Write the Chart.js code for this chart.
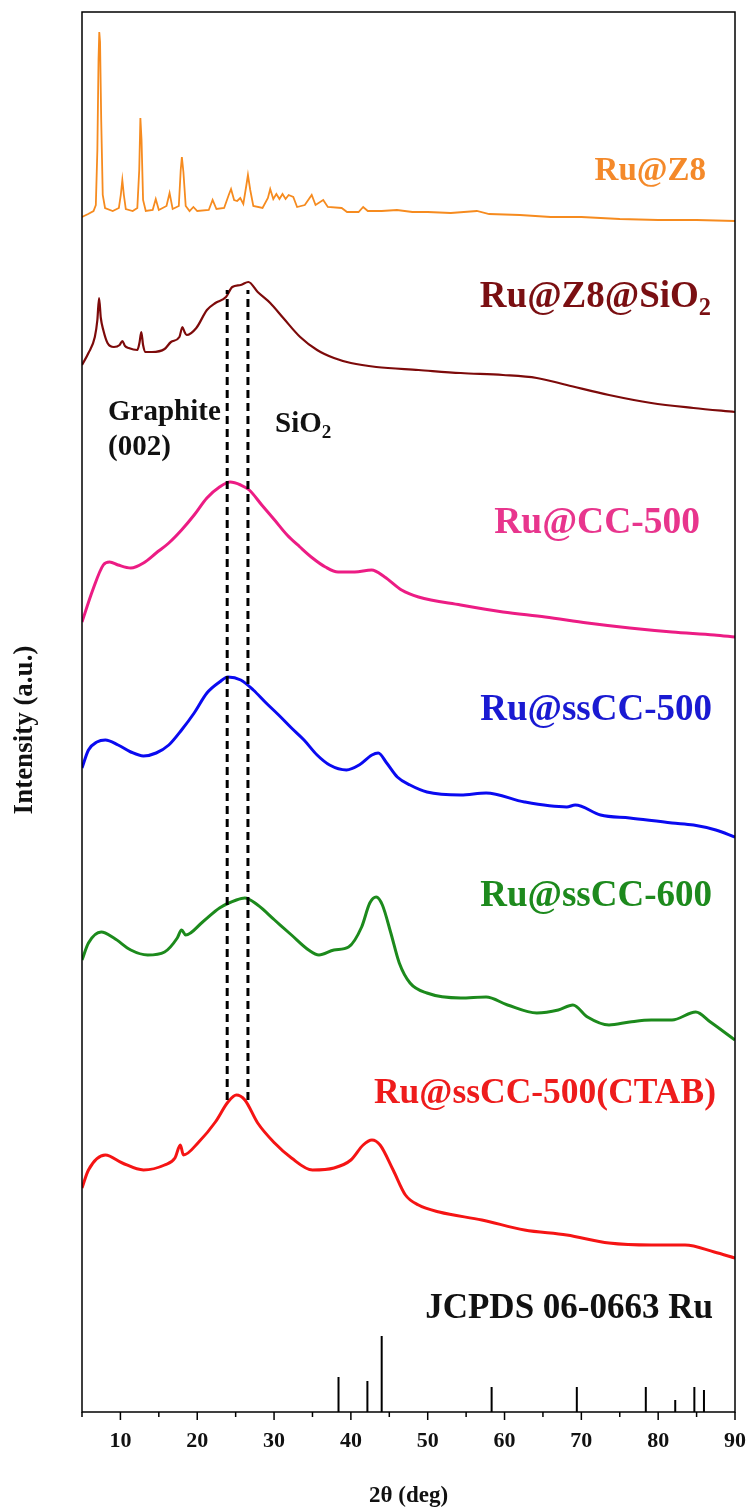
<!DOCTYPE html>
<html>
<head>
<meta charset="utf-8">
<title>XRD patterns</title>
<script src="https://cdn.jsdelivr.net/npm/chart.js@4.4.1/dist/chart.umd.min.js"></script>
<style>
  html, body { margin: 0; padding: 0; background: #fff; }
  #xrd { display: block; }
</style>
</head>
<body>
<canvas id="xrd" width="750" height="1510"></canvas>
<script>
// 2θ positions (deg) and intensities (a.u.) for each pattern, read per curve
const z8Angle = [5.0, 5.8, 6.5, 6.8, 7.0, 7.15, 7.25, 7.35, 7.5, 7.7, 8.0, 9.0, 9.8, 10.05, 10.25, 10.45, 10.7, 11.6, 12.2, 12.45, 12.6, 12.75, 12.95, 13.3, 14.2, 14.6, 15.0, 16.0, 16.4, 16.8, 17.6, 17.85, 18.0, 18.2, 18.5, 19.0, 19.5, 20.0, 21.5, 22.0, 22.5, 23.5, 24.1, 24.4, 24.8, 25.2, 25.6, 26.0, 26.4, 26.6, 26.9, 27.3, 28.5, 29.2, 29.5, 29.9, 30.3, 30.7, 31.1, 31.5, 31.9, 32.5, 33.0, 34.0, 34.9, 35.4, 36.4, 37.0, 38.8, 39.5, 41.0, 41.6, 42.2, 44.0, 46.0, 48.0, 50.0, 53.0, 56.4, 58.0, 62.0, 66.0, 70.0, 75.0, 80.0, 85.0, 90.0];
const z8Int = [4, 7, 10, 16, 71, 161, 189, 179, 101, 26, 13, 10, 13, 26, 41, 26, 12, 10, 13, 51, 103, 81, 21, 10, 11, 22, 11, 15, 28, 12, 15, 51, 64, 49, 15, 10, 14, 10, 11, 21, 12, 13, 26, 32, 21, 20, 23, 17, 36, 46, 31, 15, 13, 23, 32, 22, 27, 22, 27, 22, 26, 24, 14, 16, 26, 16, 21, 14, 13, 9, 9, 14, 10, 10, 11, 9, 9, 8, 10, 7, 6, 4, 4, 2, 1, 1, 0];

const z8SiAngle = [5.0, 5.84, 6.67, 7.0, 7.22, 7.45, 7.77, 8.32, 9.15, 9.9, 10.25, 10.6, 11.07, 12.2, 12.5, 12.72, 12.95, 13.27, 14.1, 15.75, 16.58, 17.68, 18.07, 18.35, 18.62, 19.88, 21.26, 22.36, 23.74, 24.56, 25.66, 26.66, 27.87, 29.5, 31.2, 33.4, 35.6, 37.8, 40.0, 43.3, 48.8, 54.3, 59.8, 64.2, 68.1, 73.6, 79.1, 84.6, 90.0];
const z8SiInt = [47, 59, 75, 92, 114, 94, 82, 69, 65, 67, 71, 66, 64, 62, 70, 80, 67, 60, 60, 63, 70, 75, 85, 80, 77, 84, 102, 109, 115, 125, 127, 130, 120, 109, 94, 75, 62, 54, 49, 45, 42, 39, 37, 34, 27, 17, 9, 4, 0];

const cc500Angle = [5.0, 6.4, 7.77, 8.6, 9.7, 11.35, 13.0, 14.65, 16.3, 17.96, 19.6, 21.26, 22.9, 24.29, 25.66, 26.77, 28.4, 30.07, 31.7, 33.37, 35.0, 36.68, 38.33, 40.5, 42.7, 44.4, 46.6, 48.8, 54.3, 59.8, 65.3, 70.8, 76.3, 81.8, 87.3, 90.0];
const cc500Int = [15, 47, 72, 75, 72, 69, 74, 84, 94, 107, 122, 139, 150, 155, 152, 147, 132, 117, 102, 90, 79, 70, 65, 65, 67, 60, 47, 40, 32, 25, 20, 14, 9, 5, 2, 0];

const ss500Angle = [5.0, 5.84, 6.94, 8.04, 9.7, 11.35, 13.0, 14.65, 16.3, 17.96, 19.6, 21.26, 22.9, 24.0, 25.66, 27.3, 28.97, 30.6, 32.27, 33.9, 35.6, 37.23, 39.43, 41.08, 42.74, 43.56, 44.66, 46.04, 47.7, 49.9, 54.3, 57.6, 62.6, 68.1, 69.2, 72.5, 76.3, 81.8, 84.6, 87.5, 90.0];
const ss500Int = [69, 87, 95, 97, 92, 85, 81, 84, 92, 107, 124, 144, 155, 160, 157, 147, 134, 122, 109, 97, 82, 72, 67, 72, 82, 84, 74, 60, 52, 45, 42, 44, 35, 30, 32, 22, 19, 14, 12, 7, 0];

const ss600Angle = [5.0, 5.84, 7.5, 9.15, 11.35, 13.55, 15.75, 17.4, 17.96, 18.5, 20.7, 22.9, 25.1, 26.2, 27.87, 30.07, 32.27, 34.5, 35.85, 37.8, 39.7, 41.4, 42.46, 43.3, 44.1, 45.2, 46.3, 47.7, 49.9, 54.3, 57.6, 60.4, 64.2, 67.0, 68.9, 70.8, 73.6, 76.3, 79.1, 81.8, 84.9, 86.8, 90.0];
const ss600Int = [80, 97, 108, 102, 90, 85, 88, 102, 110, 105, 118, 132, 140, 142, 135, 120, 105, 90, 85, 90, 93, 113, 137, 143, 135, 107, 77, 57, 47, 42, 43, 35, 27, 30, 35, 23, 15, 18, 20, 20, 28, 18, 0];

const ctabAngle = [5.0, 5.84, 8.04, 10.25, 13.0, 15.75, 17.1, 17.8, 18.2, 20.2, 22.36, 24.0, 25.1, 26.2, 27.87, 30.07, 32.27, 35.0, 37.8, 40.0, 41.6, 42.74, 43.8, 45.5, 47.1, 48.8, 51.5, 57.05, 62.6, 68.1, 73.6, 79.1, 83.5, 87.3, 90.0];
const ctabInt = [70, 88, 103, 95, 88, 93, 100, 113, 103, 116, 136, 156, 163, 158, 135, 115, 100, 88, 90, 98, 113, 118, 113, 88, 63, 53, 46, 38, 28, 23, 15, 13, 13, 6, 0];

// JCPDS 06-0663 (hcp Ru) reference lines
const refAngle = [38.39, 42.15, 44.01, 58.32, 69.41, 78.39, 82.22, 84.71, 85.96];
const refInt = [35, 31, 76, 25, 25, 25, 12, 25, 22];

// vertical shift of each pattern in the stack
const offsets = [1191, 1000, 775, 575, 372, 154];
// graphite (002) and SiO2 guide lines
const guideAngle = [23.9, 26.6];
const guideSpan = [312, 1122];

const serif = '"Liberation Serif", "Times New Roman", serif';

function toPoints(xs, ys, shift) {
    return xs.map((x, i) => ({ x: x, y: ys[i] + shift }));
}

function stickPoints(xs, ys) {
    const pts = [];
    xs.forEach((x, i) => {
        pts.push({ x: x, y: 0 }, { x: x, y: ys[i] }, { x: x, y: null });
    });
    return pts;
}

function trace(label, xs, ys, shift, color, width, smooth) {
    return {
        label: label,
        data: toPoints(xs, ys, shift),
        borderColor: color,
        borderWidth: width,
        pointRadius: 0,
        fill: false,
        cubicInterpolationMode: smooth ? 'monotone' : 'default',
        tension: 0
    };
}

const datasets = [];
guideAngle.forEach(a => {
    datasets.push({
        label: 'guide',
        data: [{ x: a, y: guideSpan[0] }, { x: a, y: guideSpan[1] }],
        borderColor: '#000',
        borderWidth: 3,
        borderDash: [8, 5],
        pointRadius: 0
    });
});
datasets.push(
    trace('Ru@Z8', z8Angle, z8Int, offsets[0], '#f68b1f', 1.8, false),
    trace('Ru@Z8@SiO2', z8SiAngle, z8SiInt, offsets[1], '#7d0a0a', 2.2, true),
    trace('Ru@CC-500', cc500Angle, cc500Int, offsets[2], '#ec1c84', 3, true),
    trace('Ru@ssCC-500', ss500Angle, ss500Int, offsets[3], '#0a0af0', 3, true),
    trace('Ru@ssCC-600', ss600Angle, ss600Int, offsets[4], '#1c8a1c', 3, true),
    trace('Ru@ssCC-500(CTAB)', ctabAngle, ctabInt, offsets[5], '#f51414', 3, true),
    {
        label: 'JCPDS 06-0663 Ru',
        data: stickPoints(refAngle, refInt),
        borderColor: '#000',
        borderWidth: 2,
        pointRadius: 0,
        spanGaps: false
    }
);

// text with an optional subscript part; right edge (or left edge) at x, baseline at y
function drawRich(ctx, parts, x, y, size, color, alignRight) {
    ctx.fillStyle = color;
    ctx.textAlign = 'left';
    ctx.textBaseline = 'alphabetic';
    const fontOf = p => 'bold ' + (p.sub ? size * 0.66 : size) + 'px ' + serif;
    let total = 0;
    parts.forEach(p => { ctx.font = fontOf(p); total += ctx.measureText(p.t).width; });
    let cx = alignRight ? x - total : x;
    parts.forEach(p => {
        ctx.font = fontOf(p);
        ctx.fillText(p.t, cx, p.sub ? y + size * 0.22 : y);
        cx += ctx.measureText(p.t).width;
    });
}

const decorations = {
    id: 'decorations',
    afterDraw(chart) {
        const ctx = chart.ctx;
        const a = chart.chartArea;
        const xs = chart.scales.x;
        ctx.save();
        ctx.strokeStyle = '#000';
        ctx.lineWidth = 1.5;
        ctx.strokeRect(a.left, a.top, a.right - a.left, a.bottom - a.top);
        // outward tick marks, long on the labelled decades
        xs.ticks.forEach(t => {
            const px = xs.getPixelForValue(t.value);
            const len = t.value % 10 === 0 ? 8 : 5;
            ctx.beginPath();
            ctx.moveTo(px, a.bottom);
            ctx.lineTo(px, a.bottom + len);
            ctx.stroke();
        });

        // y axis title, set a little below the plot centre
        ctx.save();
        ctx.translate(25, 730);
        ctx.rotate(-Math.PI / 2);
        ctx.font = 'bold 27px ' + serif;
        ctx.fillStyle = '#111';
        ctx.textAlign = 'center';
        ctx.textBaseline = 'middle';
        ctx.fillText('Intensity (a.u.)', 0, 0);
        ctx.restore();

        // sample names, right aligned near the frame
        drawRich(ctx, [{ t: 'Ru@Z8' }], 706, 180, 33, '#f4892a', true);
        drawRich(ctx, [{ t: 'Ru@Z8@SiO' }, { t: '2', sub: true }], 711, 307, 37, '#7a0f12', true);
        drawRich(ctx, [{ t: 'Ru@CC-500' }], 700, 533, 37.5, '#e8358d', true);
        drawRich(ctx, [{ t: 'Ru@ssCC-500' }], 712, 720, 37, '#1a1ad2', true);
        drawRich(ctx, [{ t: 'Ru@ssCC-600' }], 712, 906, 37, '#1d8a1d', true);
        drawRich(ctx, [{ t: 'Ru@ssCC-500(CTAB)' }], 716, 1103, 35.5, '#ee1c1c', true);
        drawRich(ctx, [{ t: 'JCPDS 06-0663 Ru' }], 713, 1318, 35, '#111', true);

        // phase markers beside the guide lines
        drawRich(ctx, [{ t: 'Graphite' }], 108, 420, 29, '#111', false);
        drawRich(ctx, [{ t: '(002)' }], 108, 455, 29, '#111', false);
        drawRich(ctx, [{ t: 'SiO' }, { t: '2', sub: true }], 275, 432, 29, '#111', false);
        ctx.restore();
    }
};

new Chart(document.getElementById('xrd'), {
    type: 'line',
    data: { datasets: datasets },
    options: {
        responsive: false,
        animation: false,
        devicePixelRatio: 1,
        layout: { padding: { left: 0, right: 15, top: 12, bottom: 0 } },
        plugins: { legend: { display: false }, tooltip: { enabled: false } },
        scales: {
            x: {
                type: 'linear',
                min: 5,
                max: 90,
                border: { display: false },
                grid: { display: false, drawTicks: false },
                ticks: {
                    stepSize: 5,
                    padding: 16,
                    color: '#111',
                    font: { family: serif, size: 22, weight: 'bold' },
                    maxRotation: 0,
                    autoSkip: false,
                    callback: v => (v % 10 === 0 ? String(v) : '')
                },
                title: {
                    display: true,
                    text: '2θ (deg)',
                    color: '#111',
                    font: { family: serif, size: 23, weight: 'bold' },
                    padding: { top: 0, bottom: 0 }
                },
                afterFit: s => {
                    s.height = 98;
                    s.paddingLeft = 0;
                    s.paddingRight = 0;
                }
            },
            y: {
                min: 0,
                max: 1400,
                border: { display: false },
                grid: { display: false, drawTicks: false },
                ticks: { display: false },
                afterFit: s => { s.width = 82; }
            }
        }
    },
    plugins: [decorations]
});
</script>
</body>
</html>
